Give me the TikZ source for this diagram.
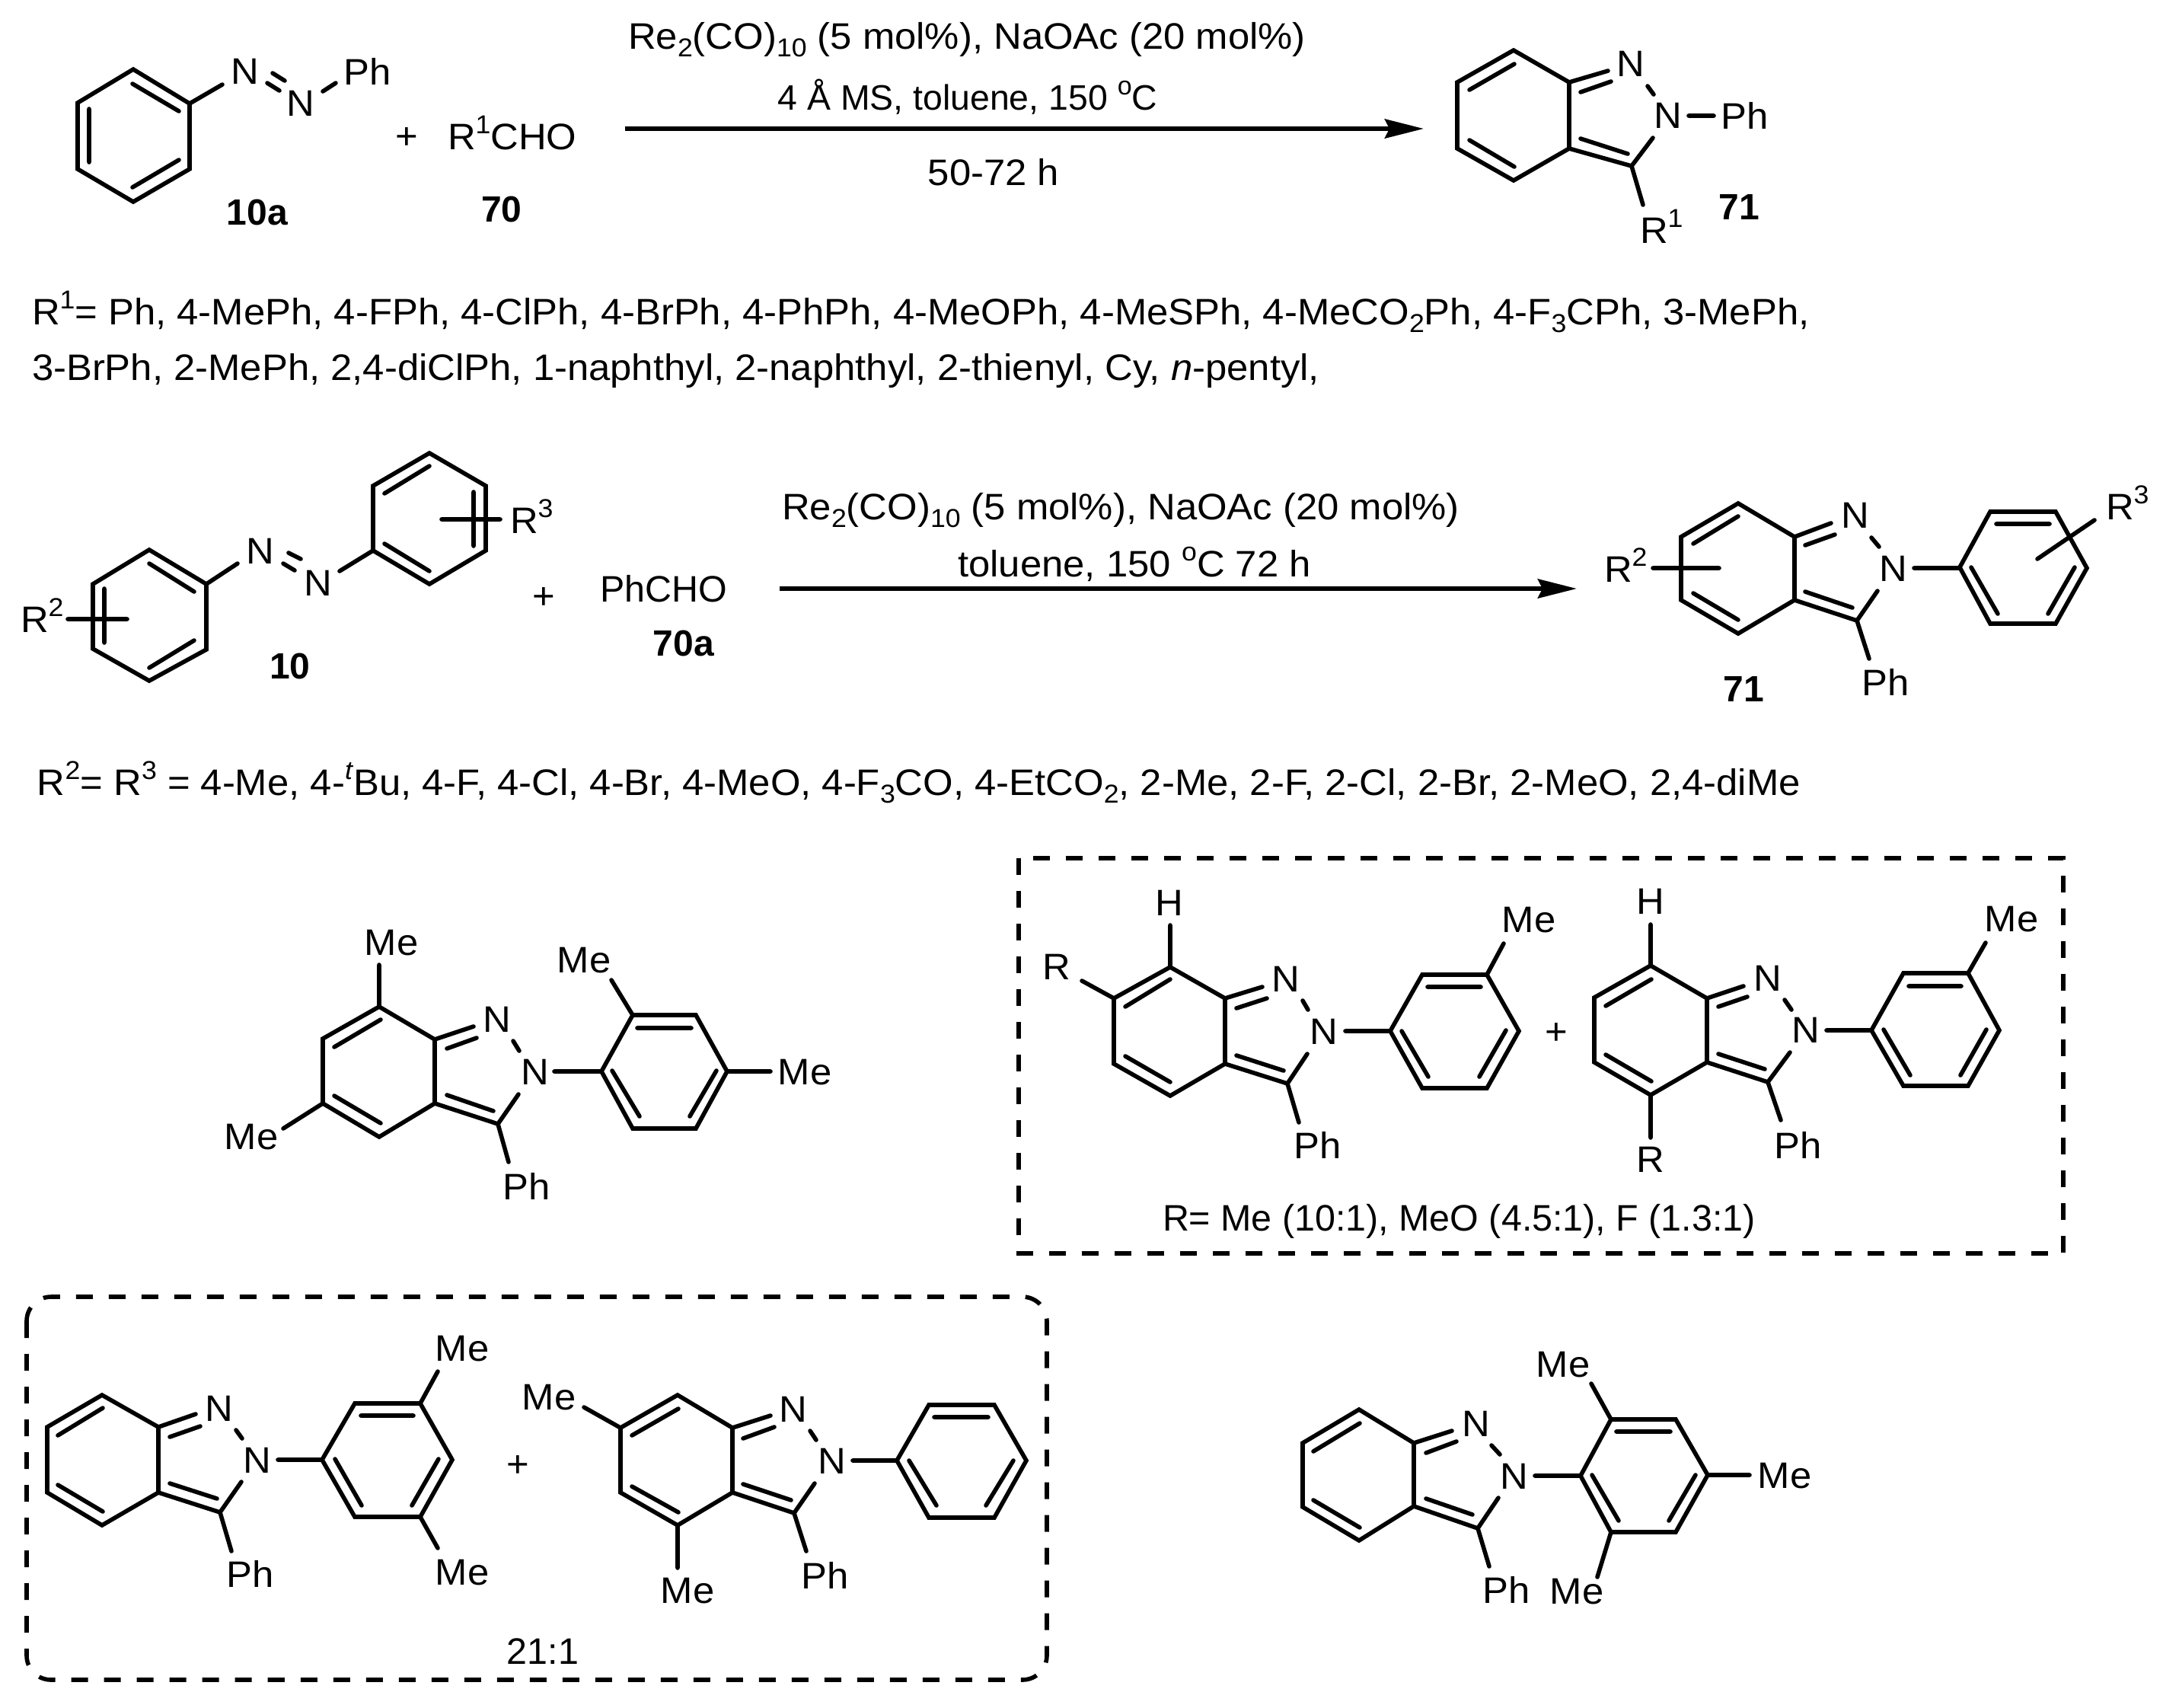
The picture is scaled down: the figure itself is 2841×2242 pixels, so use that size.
\documentclass[tikz,border=0pt]{standalone}
\usepackage{fontspec}
\setmainfont[FakeStretch=1.05]{Liberation Sans}
\newfontfamily\plainf{Liberation Sans}
\usetikzlibrary{arrows.meta}
\newcommand\sps[1]{\raisebox{0.42em}{\fontsize{8.5}{8.5}\selectfont #1}}
\newcommand\sbs[1]{\raisebox{-0.22em}{\fontsize{8.5}{8.5}\selectfont #1}}
\tikzset{
  bond/.style={line width=1.4pt,line cap=round,line join=miter,black},
  rxn/.style={line width=1.5pt,-{Stealth[length=12.75pt,width=6.25pt,inset=1.5pt]}},
  dashbox/.style={line width=1.4pt,dash pattern=on 5.5pt off 5.25pt},
  lab/.style={inner sep=0pt,outer sep=0pt,font=\fontsize{12.1}{14}\selectfont},
  txt/.style={lab,anchor=base},
  txtl/.style={lab,anchor=base west},
  plaintxt/.style={inner sep=0pt,outer sep=0pt,font=\plainf\fontsize{12.1}{14}\selectfont},
  cmpd/.style={inner sep=0pt,outer sep=0pt,font=\plainf\fontsize{12}{14}\selectfont\bfseries}
}
\begin{document}
\begin{tikzpicture}[x=0.25pt,y=-0.25pt]
\useasboundingbox (0,0) rectangle (2841,2242);
% ---------- reaction 1: 10a
\draw[bond] (175,91)--(249,136)--(249,222)--(175,265)--(102,222)--(102,135)--cycle
 (174,110)--(235,146) (117,143)--(117,213) (174,246)--(235,210)
 (249,136)--(292,111) (358,96)--(374,106) (351,109)--(367,119) (424,120)--(441,109);
\node[lab] (n1a) at (322,94) {N};
\node[lab] (n1b) at (395,136) {N};
\node[lab] (ph1) at (483,94) {Ph};
\node[cmpd] (c10a) at (338,279) {10a};
\node[lab] (pl1) at (534,182) {+};
\node[txtl] (r1cho) at (588,196) {R\sps{1}CHO};
\node[cmpd] (c70) at (659,275) {70};
\coordinate (a1s) at (821,169);
\coordinate (a1e) at (1870,169);
\draw[rxn] (a1s)--(a1e);
\node[txt] (t1a) at (1270,64) {Re\sbs{2}(CO)\sbs{10} (5 mol\%), NaOAc (20 mol\%)};
\node[plaintxt,anchor=base] (t1b) at (1271,144) {\fontsize{11.6}{14}\selectfont 4 Å MS, toluene, 150 \sps{o}C};
\node[txt] (t1c) at (1305,243) {50-72 h};
% ---------- 71 top
\draw[bond] (1988,66)--(2061,108)--(2061,195)--(1988,237)--(1914,195)--(1914,108)--cycle
 (1930,118)--(1989,84) (1930,184)--(1989,219)
 (2061,108)--(2112,93) (2076,121)--(2116,107) (2164,113)--(2172,124) (2218,152)--(2251,152)
 (2061,195)--(2143,218)--(2171,181) (2076,182)--(2138,202) (2143,218)--(2158,269);
\node[lab] (n2a) at (2142,84) {N};
\node[lab] (n2b) at (2191,152) {N};
\node[lab] (ph2) at (2292,152) {Ph};
\node[txtl] (r1) at (2154,319) {R\sps{1}};
\node[cmpd] (c71a) at (2284,272) {71};
% ---------- R1 list
\node[txtl] (l1) at (42,426) {R\sps{1}= Ph, 4-MePh, 4-FPh, 4-ClPh, 4-BrPh, 4-PhPh, 4-MeOPh, 4-MeSPh, 4-MeCO\sbs{2}Ph, 4-F\sbs{3}CPh, 3-MePh,};
\node[txtl] (l2) at (42,499) {3-BrPh, 2-MePh, 2,4-diClPh, 1-naphthyl, 2-naphthyl, 2-thienyl, Cy, \textit{n}-pentyl,};
% ---------- reaction 2: 10
\draw[bond] (196,722)--(271,767)--(271,853)--(196,894)--(122,852)--(122,767)--cycle
 (196,740)--(255,777) (137,773)--(137,844) (196,877)--(255,841) (89,813)--(167,813)
 (271,767)--(312,740) (379,726)--(395,734) (372,740)--(387,749) (446,750)--(490,723)
 (564,595)--(638,638)--(638,723)--(564,767)--(490,723)--(490,638)--cycle
 (564,612)--(505,648) (505,714)--(564,750) (622,646)--(622,717) (580,682)--(657,682);
\node[txtl] (r2a) at (27,830) {R\sps{2}};
\node[txtl] (r3a) at (670,700) {R\sps{3}};
\node[lab] (n3a) at (342,724) {N};
\node[lab] (n3b) at (418,766) {N};
\node[cmpd] (c10) at (381,875) {10};
\node[lab] (pl2) at (714,786) {+};
\node[plaintxt,anchor=base west] (phcho) at (788,790) {PhCHO};
\node[cmpd] (c70a) at (898,845) {70a};
\coordinate (a2s) at (1024,773);
\coordinate (a2e) at (2071,773);
\draw[rxn] (a2s)--(a2e);
\node[txt] (t2a) at (1472,682) {Re\sbs{2}(CO)\sbs{10} (5 mol\%), NaOAc (20 mol\%)};
\node[txt] (t2b) at (1490,757) {toluene, 150 \sps{o}C 72 h};
% ---------- 71 right
\draw[bond] (2283,661)--(2357,705)--(2357,788)--(2283,832)--(2208,788)--(2208,705)--cycle
 (2283,678)--(2224,714) (2224,779)--(2283,814)
 (2357,705)--(2405,687) (2371,716)--(2410,702) (2458,706)--(2468,718)
 (2357,788)--(2439,815)--(2466,776) (2371,777)--(2433,798) (2439,815)--(2455,865)
 (2514,746)--(2574,746)
 (2574,745)--(2614,672)--(2700,672)--(2741,746)--(2700,819)--(2614,819)--cycle
 (2622,688)--(2692,688) (2589,745)--(2624,806) (2725,745)--(2690,806)
 (2676,734)--(2751,683) (2171,746)--(2258,746);
\node[lab] (n4a) at (2437,677) {N};
\node[lab] (n4b) at (2487,747) {N};
\node[lab] (ph4) at (2477,896) {Ph};
\node[txtl] (r3b) at (2766,682) {R\sps{3}};
\node[txtl] (r2b) at (2107,764) {R\sps{2}};
\node[cmpd] (c71b) at (2290,905) {71};
\node[txtl] (l3) at (49,1044) {R\sps{2}= R\sps{3} = 4-Me, 4-\sps{\textit{t}}Bu, 4-F, 4-Cl, 4-Br, 4-MeO, 4-F\sbs{3}CO, 4-EtCO\sbs{2}, 2-Me, 2-F, 2-Cl, 2-Br, 2-MeO, 2,4-diMe};
% ---------- trimethyl compound
\draw[bond] (498,1322)--(571,1365)--(571,1449)--(498,1493)--(424,1449)--(424,1364)--cycle
 (500,1339)--(439,1375) (439,1439)--(500,1475)
 (571,1365)--(622,1348) (587,1377)--(626,1363) (674,1367)--(682,1380)
 (571,1449)--(654,1476)--(681,1437) (587,1438)--(648,1459) (654,1476)--(668,1526)
 (498,1322)--(498,1267) (424,1449)--(372,1482) (728,1407)--(790,1407)
 (790,1407)--(831,1333)--(914,1333)--(955,1407)--(914,1482)--(831,1482)--cycle
 (837,1350)--(908,1350) (804,1406)--(840,1466) (941,1406)--(906,1466)
 (831,1333)--(803,1287) (955,1407)--(1012,1407);
\node[lab] (n5a) at (653,1339) {N};
\node[lab] (n5b) at (703,1408) {N};
\node[lab] (ph5) at (692,1558) {Ph};
\node[lab] (me5a) at (514,1238) {Me};
\node[lab] (me5b) at (330,1493) {Me};
\node[lab] (me5c) at (767,1261) {Me};
\node[lab] (me5d) at (1057,1408) {Me};
% ---------- box A
\draw[dashbox] (1338,1127) rectangle (2710,1646);
\draw[bond] (1537,1270)--(1609,1311)--(1609,1397)--(1537,1439)--(1463,1397)--(1463,1311)--cycle
 (1537,1286)--(1478,1322) (1478,1387)--(1537,1421)
 (1609,1311)--(1658,1296) (1624,1324)--(1664,1311) (1711,1314)--(1718,1326)
 (1609,1397)--(1691,1423)--(1717,1384) (1624,1386)--(1686,1406) (1691,1423)--(1706,1474)
 (1537,1270)--(1537,1215) (1463,1311)--(1421,1288) (1767,1354)--(1826,1354)
 (1826,1354)--(1868,1280)--(1953,1280)--(1995,1354)--(1953,1429)--(1868,1429)--cycle
 (1875,1296)--(1945,1296) (1841,1354)--(1876,1414) (1978,1353)--(1943,1414)
 (1953,1280)--(1975,1239);
\node[lab] (n6a) at (1689,1286) {N};
\node[lab] (n6b) at (1739,1355) {N};
\node[lab] (ph6) at (1731,1504) {Ph};
\node[lab] (h6) at (1536,1186) {H};
\node[lab] (r6) at (1388,1270) {R};
\node[lab] (me6) at (2008,1208) {Me};
\node[lab] (pl3) at (2044,1358) {+};
\draw[bond] (2168,1268)--(2242,1311)--(2242,1395)--(2168,1438)--(2094,1395)--(2094,1310)--cycle
 (2169,1286)--(2109,1321) (2109,1385)--(2169,1420)
 (2242,1311)--(2290,1295) (2257,1322)--(2295,1309) (2344,1313)--(2353,1326)
 (2242,1395)--(2322,1421)--(2351,1382) (2257,1384)--(2318,1404) (2322,1421)--(2339,1471)
 (2168,1268)--(2168,1214) (2168,1438)--(2168,1494) (2399,1353)--(2458,1353)
 (2458,1353)--(2500,1278)--(2585,1278)--(2626,1353)--(2585,1426)--(2500,1426)--cycle
 (2507,1295)--(2576,1295) (2474,1352)--(2509,1412) (2609,1352)--(2575,1412)
 (2585,1278)--(2608,1238);
\node[lab] (n7a) at (2322,1285) {N};
\node[lab] (n7b) at (2372,1353) {N};
\node[lab] (ph7) at (2362,1504) {Ph};
\node[lab] (h7) at (2168,1184) {H};
\node[lab] (r7) at (2168,1523) {R};
\node[lab] (me7) at (2642,1207) {Me};
\node[plaintxt,anchor=base west] (t6) at (1527,1616) {R= Me (10:1), MeO (4.5:1), F (1.3:1)};
% ---------- box B
\draw[dashbox,rounded corners=8pt] (35,1703) rectangle (1375,2206);
\draw[bond] (134,1832)--(208,1874)--(208,1960)--(134,2003)--(62,1960)--(62,1874)--cycle
 (135,1849)--(76,1885) (76,1950)--(135,1985)
 (208,1874)--(257,1857) (223,1887)--(263,1873) (310,1878)--(318,1889)
 (208,1960)--(289,1986)--(317,1946) (223,1948)--(285,1968) (289,1986)--(304,2037)
 (365,1917)--(423,1917)
 (423,1917)--(466,1843)--(552,1843)--(594,1917)--(552,1992)--(466,1992)--cycle
 (474,1859)--(543,1859) (440,1916)--(475,1977) (576,1916)--(541,1977)
 (552,1843)--(575,1801) (552,1992)--(575,2033);
\node[lab] (n8a) at (288,1850) {N};
\node[lab] (n8b) at (338,1918) {N};
\node[lab] (ph8) at (329,2067) {Ph};
\node[lab] (me8a) at (607,1771) {Me};
\node[lab] (me8b) at (607,2065) {Me};
\node[lab] (pl4) at (680,1926) {+};
\draw[bond] (890,1832)--(962,1875)--(962,1960)--(890,2003)--(815,1960)--(815,1875)--cycle
 (891,1850)--(830,1885) (830,1952)--(891,1986)
 (962,1875)--(1012,1859) (976,1889)--(1017,1874) (1064,1879)--(1072,1891)
 (962,1960)--(1043,1987)--(1070,1948) (976,1949)--(1039,1970) (1043,1987)--(1059,2037)
 (815,1875)--(767,1848) (890,2003)--(890,2059) (1120,1918)--(1178,1918)
 (1178,1918)--(1220,1845)--(1306,1845)--(1348,1918)--(1306,1993)--(1220,1993)--cycle
 (1227,1861)--(1298,1861) (1194,1918)--(1230,1977) (1331,1918)--(1295,1977);
\node[lab] (n9a) at (1042,1851) {N};
\node[lab] (n9b) at (1093,1919) {N};
\node[lab] (ph9) at (1084,2069) {Ph};
\node[lab] (me9a) at (721,1835) {Me};
\node[lab] (me9b) at (903,2089) {Me};
\node[plaintxt,anchor=base] (t9) at (713,2185) {21:1};
% ---------- mesityl compound
\draw[bond] (1785,1851)--(1857,1895)--(1857,1978)--(1785,2023)--(1711,1979)--(1711,1895)--cycle
 (1786,1869)--(1725,1906) (1725,1970)--(1786,2006)
 (1857,1895)--(1907,1879) (1873,1908)--(1913,1893) (1959,1898)--(1970,1910)
 (1857,1978)--(1941,2007)--(1968,1967) (1873,1968)--(1934,1989) (1941,2007)--(1956,2057)
 (2016,1938)--(2076,1938)
 (2076,1938)--(2116,1864)--(2201,1864)--(2243,1937)--(2201,2012)--(2116,2012)--cycle
 (2123,1880)--(2194,1880) (2091,1937)--(2126,1997) (2227,1937)--(2192,1997)
 (2116,1864)--(2090,1817) (2243,1937)--(2298,1937) (2116,2012)--(2098,2071);
\node[lab] (n10a) at (1939,1870) {N};
\node[lab] (n10b) at (1989,1939) {N};
\node[lab] (ph10) at (1979,2088) {Ph};
\node[lab] (me10a) at (2053,1792) {Me};
\node[lab] (me10b) at (2344,1938) {Me};
\node[lab] (me10c) at (2071,2090) {Me};
\end{tikzpicture}
\end{document}
